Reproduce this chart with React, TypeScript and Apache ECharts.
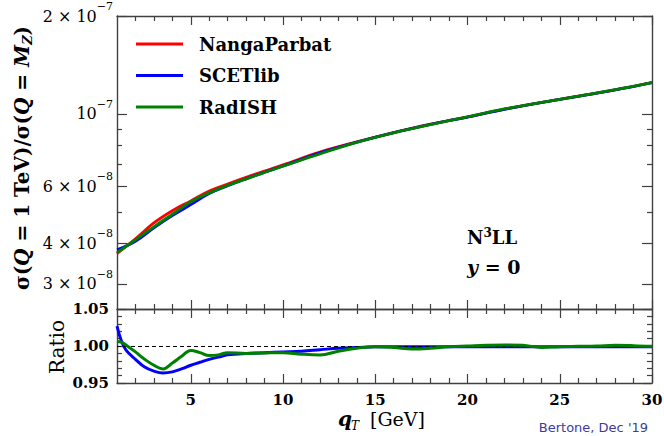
import React, { useEffect, useRef } from 'react';
import * as echarts from 'echarts';

// ---------- data ----------
const seriesNames = ['NangaParbat', 'SCETlib', 'RadISH'];
const seriesColors = ['#ff0000', '#0000ff', '#008000'];

const qT = [1, 2, 3, 4, 5, 6, 7, 8, 9, 10, 12, 14, 16, 18, 20, 22, 25, 28, 30];
const nangaParbat = [3.720e-8, 4.131e-8, 4.622e-8, 5.040e-8, 5.400e-8, 5.793e-8, 6.086e-8, 6.380e-8, 6.675e-8, 6.971e-8, 7.628e-8, 8.201e-8, 8.762e-8, 9.299e-8, 9.790e-8, 1.034e-7, 1.109e-7, 1.186e-7, 1.249e-7];
const scetlib = [3.820e-8, 4.061e-8, 4.465e-8, 4.869e-8, 5.260e-8, 5.689e-8, 6.013e-8, 6.316e-8, 6.615e-8, 6.915e-8, 7.590e-8, 8.185e-8, 8.753e-8, 9.290e-8, 9.780e-8, 1.033e-7, 1.108e-7, 1.185e-7, 1.248e-7];
const radish = [3.742e-8, 4.102e-8, 4.497e-8, 4.914e-8, 5.368e-8, 5.718e-8, 6.031e-8, 6.316e-8, 6.612e-8, 6.908e-8, 7.536e-8, 8.176e-8, 8.744e-8, 9.271e-8, 9.790e-8, 1.036e-7, 1.108e-7, 1.187e-7, 1.248e-7];

const ratioQt = [1, 1.25, 1.5, 2, 2.5, 3, 3.5, 4, 4.5, 5, 5.5, 6, 6.5, 7, 8, 9, 10, 11, 12, 13, 14, 15, 16, 17, 18, 19, 20, 21, 22, 23, 24, 25, 26, 27, 28, 29, 30];
const scetlibRatio = [1.027, 1.006, 0.994, 0.982, 0.9715, 0.966, 0.9635, 0.965, 0.969, 0.974, 0.978, 0.982, 0.985, 0.988, 0.990, 0.991, 0.992, 0.993, 0.995, 0.997, 0.998, 0.999, 0.999, 0.999, 0.999, 0.999, 0.999, 0.999, 0.999, 0.999, 0.999, 0.999, 0.999, 0.999, 0.999, 0.999, 0.999];
const radishRatio = [1.006, 1.005, 1.001, 0.992, 0.982, 0.974, 0.969, 0.977, 0.986, 0.994, 0.991, 0.987, 0.988, 0.991, 0.990, 0.9905, 0.991, 0.989, 0.988, 0.993, 0.997, 0.999, 0.998, 0.996, 0.997, 0.999, 1.000, 1.001, 1.0015, 1.001, 0.998, 0.999, 0.9995, 1.000, 1.001, 1.0005, 0.9995];

const xRange = [1, 30];
const topRange = [2.513e-8, 2e-7];
const ratioRange = [0.95, 1.05];
const xMajor = [5, 10, 15, 20, 25, 30];
const xMinor = [2, 3, 4, 6, 7, 8, 9, 11, 12, 13, 14, 16, 17, 18, 19, 21, 22, 23, 24, 26, 27, 28, 29];
const topMajor = [3e-8, 4e-8, 6e-8, 1e-7, 2e-7];
const topMinor = [5e-8, 7e-8, 8e-8, 9e-8];
const ratioMajor = [0.95, 1.0, 1.05];
const ratioMinor = [0.96, 0.97, 0.98, 0.99, 1.01, 1.02, 1.03, 1.04];
const ratioLabels = ['0.95', '1.00', '1.05'];

// ---------- style ----------
const SERIF = '"DejaVu Serif", serif';
const AX = '#404040';
const L = Math.log10;

function xAx(grid: number, pos: string, ticks: number[], len: number, line: boolean, labels?: number[]) {
  return {
    type: 'value', gridIndex: grid, position: pos, min: xRange[0], max: xRange[1],
    axisLine: { show: line, onZero: false, lineStyle: { color: AX, width: 1.4 } },
    axisTick: { show: true, inside: true, length: len, customValues: ticks, lineStyle: { color: AX, width: 1.2 } },
    axisLabel: labels
      ? { show: true, customValues: labels, margin: 9, color: '#000', fontFamily: SERIF, fontWeight: 'bold', fontSize: 15, lineHeight: 15 }
      : { show: false },
    splitLine: { show: false },
  };
}

function yAx(grid: number, pos: string, min: number, max: number, ticks: number[], len: number, line: boolean, label?: any) {
  return {
    type: 'value', gridIndex: grid, position: pos, min, max,
    axisLine: { show: line, onZero: false, lineStyle: { color: AX, width: 1.4 } },
    axisTick: { show: true, inside: true, length: len, customValues: ticks, lineStyle: { color: AX, width: 1.2 } },
    axisLabel: label ? label : { show: false },
    splitLine: { show: false },
  };
}

function buildOption() {
  const topMin = L(topRange[0]);
  const topMax = L(topRange[1]);
  const topVals = [nangaParbat, scetlib, radish];
  const ratioVals = [scetlibRatio, radishRatio];

  const topLabel = {
    show: true,
    customValues: topMajor.map(L),
    margin: 4,
    formatter: (v: number) => {
      const e = Math.floor(v + 1e-9);
      const m = Math.round(Math.pow(10, v - e));
      const exp = '\u2212' + String(-e);
      return m === 1 ? `{m|10}{s|${exp}}` : `{m|${m} \u00d7 10}{s|${exp}}`;
    },
    rich: {
      m: { fontSize: 16, fontFamily: SERIF, color: '#000', lineHeight: 30 },
      s: { fontSize: 11, fontFamily: SERIF, color: '#000', lineHeight: 12, verticalAlign: 'top' },
    },
  };
  const ratioLabel = {
    show: true,
    customValues: ratioMajor,
    margin: 8,
    color: '#000', fontFamily: SERIF, fontWeight: 'bold', fontSize: 15,
    formatter: (v: number) => {
      const i = ratioMajor.findIndex((t) => Math.abs(t - v) < 1e-6);
      return i >= 0 ? ratioLabels[i] : '';
    },
  };

  const series: any[] = [];
  topVals.forEach((vals, k) => {
    series.push({
      name: seriesNames[k], type: 'line', xAxisIndex: 0, yAxisIndex: 0,
      data: qT.map((x, i) => [x, L(vals[i])]),
      smooth: 0.4, showSymbol: false, symbol: 'none',
      color: seriesColors[k],
      lineStyle: { color: seriesColors[k], width: 2.8 },
      z: 3 + k,
    });
  });
  ratioVals.forEach((vals, k) => {
    const s: any = {
      name: seriesNames[k + 1], type: 'line', xAxisIndex: 4, yAxisIndex: 4,
      data: ratioQt.map((x, i) => [x, vals[i]]),
      smooth: 0.4, showSymbol: false, symbol: 'none',
      color: seriesColors[k + 1],
      lineStyle: { color: seriesColors[k + 1], width: 3 },
      z: 4 + k,
    };
    if (k === 0) {
      s.markLine = {
        silent: true, symbol: 'none', label: { show: false }, animation: false,
        lineStyle: { color: '#000', type: [4, 3], width: 1 },
        data: [{ yAxis: 1 }],
      };
    }
    series.push(s);
  });

  return {
    animation: false,
    backgroundColor: '#fff',
    grid: [
      { left: 117, right: 12, top: 16, height: 293, containLabel: false, outerBoundsMode: 'none' },
      { left: 117, right: 12, top: 309, height: 74, containLabel: false, outerBoundsMode: 'none' },
    ],
    xAxis: [
      xAx(0, 'bottom', xMajor, 9, true),
      xAx(0, 'top', xMajor, 9, true),
      xAx(0, 'bottom', xMinor, 5, false),
      xAx(0, 'top', xMinor, 5, false),
      xAx(1, 'bottom', xMajor, 9, true, xMajor),
      xAx(1, 'top', xMajor, 9, true),
      xAx(1, 'bottom', xMinor, 5, false),
      xAx(1, 'top', xMinor, 5, false),
    ],
    yAxis: [
      yAx(0, 'left', topMin, topMax, topMajor.map(L), 10, true, topLabel),
      yAx(0, 'right', topMin, topMax, topMajor.map(L), 10, true),
      yAx(0, 'left', topMin, topMax, topMinor.map(L), 5, false),
      yAx(0, 'right', topMin, topMax, topMinor.map(L), 5, false),
      yAx(1, 'left', ratioRange[0], ratioRange[1], ratioMajor, 9, true, ratioLabel),
      yAx(1, 'right', ratioRange[0], ratioRange[1], ratioMajor, 9, true),
      yAx(1, 'left', ratioRange[0], ratioRange[1], ratioMinor, 5, false),
      yAx(1, 'right', ratioRange[0], ratioRange[1], ratioMinor, 5, false),
    ],
    legend: {
      data: seriesNames,
      orient: 'vertical', left: 136, top: 33, padding: 0,
      icon: 'rect', itemWidth: 47, itemHeight: 3, itemGap: 9.5,
      selectedMode: false,
      textStyle: { fontFamily: SERIF, fontWeight: 'bold', fontSize: 18, color: '#000', lineHeight: 22, padding: [0, 0, 0, 11] },
    },
    graphic: [
      {
        type: 'text', x: 22, y: 158, rotation: Math.PI / 2,
        style: {
          text: '{b|\u03c3(}{bi|Q}{b| = 1 TeV)/\u03c3(}{bi|Q}{b| = }{bi|M}{sub|Z}{b|)}',
          align: 'center', verticalAlign: 'middle', fill: '#000',
          rich: {
            b: { fontFamily: SERIF, fontWeight: 'bold', fontSize: 20, lineHeight: 24, fill: '#000' },
            bi: { fontFamily: SERIF, fontWeight: 'bold', fontStyle: 'italic', fontSize: 20, lineHeight: 24, fill: '#000' },
            sub: { fontFamily: SERIF, fontWeight: 'bold', fontStyle: 'italic', fontSize: 13, lineHeight: 12, verticalAlign: 'bottom', fill: '#000' },
          },
        },
      },
      {
        type: 'text', x: 57, y: 347, rotation: Math.PI / 2,
        style: { text: 'Ratio', align: 'center', verticalAlign: 'middle', fill: '#000', fontFamily: SERIF, fontSize: 20 },
      },
      {
        type: 'text', x: 338, y: 419,
        style: { text: 'q', align: 'left', verticalAlign: 'middle', fill: '#000', fontFamily: SERIF, fontWeight: 'bold', fontStyle: 'italic', fontSize: 20 },
      },
      {
        type: 'text', x: 351, y: 426,
        style: { text: 'T', align: 'left', verticalAlign: 'middle', fill: '#000', fontFamily: SERIF, fontStyle: 'italic', fontSize: 12 },
      },
      {
        type: 'text', x: 370, y: 419,
        style: { text: '[GeV]', align: 'left', verticalAlign: 'middle', fill: '#000', fontFamily: SERIF, fontSize: 19 },
      },
      {
        type: 'text', x: 467, y: 237,
        style: {
          text: '{b|N}{sup|3}{b|LL}',
          align: 'left', verticalAlign: 'middle', fill: '#000',
          rich: {
            b: { fontFamily: SERIF, fontWeight: 'bold', fontSize: 18, lineHeight: 20, fill: '#000' },
            sup: { fontFamily: SERIF, fontWeight: 'bold', fontSize: 12, lineHeight: 12, verticalAlign: 'top', fill: '#000' },
          },
        },
      },
      {
        type: 'text', x: 467, y: 267,
        style: {
          text: '{bi|y}{b| = 0}',
          align: 'left', verticalAlign: 'middle', fill: '#000',
          rich: {
            bi: { fontFamily: SERIF, fontWeight: 'bold', fontStyle: 'italic', fontSize: 19, fill: '#000' },
            b: { fontFamily: SERIF, fontWeight: 'bold', fontSize: 19, fill: '#000' },
          },
        },
      },
      {
        type: 'text', x: 648, y: 427,
        style: { text: "Bertone, Dec '19", align: 'right', verticalAlign: 'middle', fill: '#3c3c9c', fontFamily: '"DejaVu Sans", sans-serif', fontSize: 13 },
      },
    ],
    series,
  };
}

export default function App() {
  const ref = useRef<HTMLDivElement>(null);
  useEffect(() => {
    if (!ref.current) return;
    const chart = echarts.init(ref.current, null, { renderer: 'svg' });
    chart.setOption(buildOption() as any);
    return () => chart.dispose();
  }, []);
  return <div ref={ref} style={{ position: 'fixed', left: 0, top: 0, width: 664, height: 436, background: '#fff' }} />;
}
